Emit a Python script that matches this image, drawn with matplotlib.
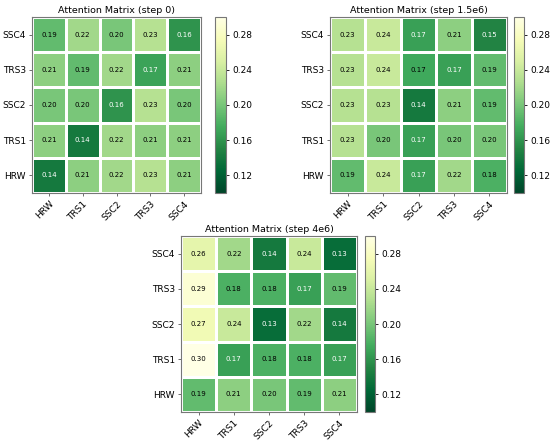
import matplotlib
matplotlib.use('Agg')
import matplotlib.pyplot as plt
import numpy as np

labels = ['HRW', 'TRS1', 'SSC2', 'TRS3', 'SSC4']

# rows: HRW, TRS1, SSC2, TRS3, SSC4 (bottom to top); columns same order
step0 = [
    [0.14, 0.21, 0.22, 0.23, 0.21],
    [0.21, 0.14, 0.22, 0.21, 0.21],
    [0.20, 0.20, 0.16, 0.23, 0.20],
    [0.21, 0.19, 0.22, 0.17, 0.21],
    [0.19, 0.22, 0.20, 0.23, 0.16],
]
step15e6 = [
    [0.19, 0.24, 0.168, 0.22, 0.18],
    [0.23, 0.20, 0.168, 0.20, 0.20],
    [0.23, 0.23, 0.14, 0.21, 0.19],
    [0.23, 0.24, 0.174, 0.168, 0.19],
    [0.23, 0.24, 0.168, 0.21, 0.15],
]
step4e6 = [
    [0.19, 0.21, 0.20, 0.19, 0.21],
    [0.30, 0.168, 0.18, 0.18, 0.168],
    [0.27, 0.24, 0.13, 0.22, 0.14],
    [0.29, 0.18, 0.18, 0.168, 0.19],
    [0.26, 0.22, 0.14, 0.24, 0.13],
]

titles = ['Attention Matrix (step 0)', 'Attention Matrix (step 1.5e6)', 'Attention Matrix (step 4e6)']
mats = [step0, step15e6, step4e6]

W, H = 550, 441
fig = plt.figure(figsize=(5.5, 4.41), dpi=100)

# pixel boxes: (left, top, width, height) for heatmap and colorbar
boxes = [
    ((32, 17, 169, 176), (215, 17, 11, 176)),
    ((330, 17, 177, 176), (514, 17, 10, 176)),
    ((181, 236, 176, 176), (365, 236, 10, 176)),
]

def px(b):
    l, t, w, h = b
    return [l / W, (H - t - h) / H, w / W, h / H]

for m, title, (hb, cb) in zip(mats, titles, boxes):
    data = np.array(m)
    ax = fig.add_axes(px(hb))
    cax = fig.add_axes(px(cb))
    im = ax.pcolormesh(data, cmap='YlGn_r', vmin=0.10, vmax=0.30,
                       edgecolors='white', linewidth=0.8)
    for i in range(5):
        for j in range(5):
            v = data[i, j]
            c = 'white' if v < 0.172 else 'black'
            ax.text(j + 0.5, i + 0.5, '%.2f' % v, ha='center', va='center',
                    fontsize=5, color=c)
    ax.set_xticks(np.arange(5) + 0.5)
    ax.set_yticks(np.arange(5) + 0.5)
    ax.set_xticklabels(labels, rotation=45, ha='right', rotation_mode='anchor', fontsize=6.5)
    ax.set_yticklabels(labels, fontsize=6.5)
    ax.tick_params(length=2.5, width=0.6, pad=2, color='#555555')
    for s in ax.spines.values():
        s.set_color('#777777')
        s.set_linewidth(0.8)
    ax.set_title(title, fontsize=6.8, pad=3)
    cbar = fig.colorbar(im, cax=cax)
    cbar.set_ticks([0.12, 0.16, 0.20, 0.24, 0.28])
    cbar.ax.tick_params(labelsize=6.5, length=2.5, width=0.6, pad=2)
    cbar.outline.set_edgecolor('#777777')
    cbar.outline.set_linewidth(0.8)

plt.savefig('out.png', dpi=100)
